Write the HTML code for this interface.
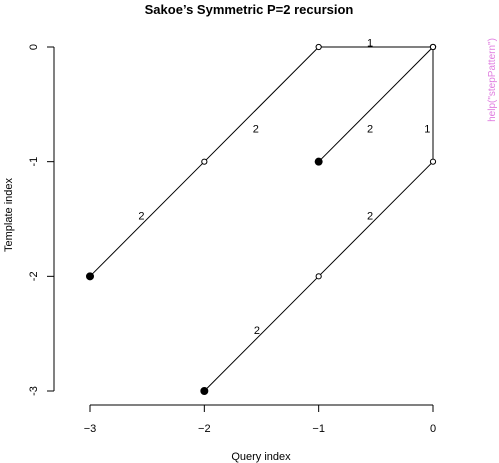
<!DOCTYPE html>
<html><head><meta charset="utf-8"><style>
body{margin:0;background:#fff}
svg{display:block;font-family:"Liberation Sans",sans-serif}
</style></head><body>
<svg width="499" height="463">
<g id="plot"></g>
</svg>
<script>
const paths = [
  {qx:[-3,-2,-1,0], ty:[-2,-1,0,0]},
  {qx:[-1,0], ty:[-1,0]},
  {qx:[-2,-1,0,0], ty:[-3,-2,-1,0]}
];
const labelText = ["2","2","1","2","2","2","1"];
const labelQ = [-2.55,-1.55,-0.55,-0.55,-1.54,-0.55,-0.05];
const labelT = [-1.47,-0.71,0.04,-0.71,-2.47,-1.47,-0.71];
const xTicks = [-3,-2,-1,0];
const yTicks = [0,-1,-2,-3];
const xTickLabels = ["\u22123","\u22122","\u22121","0"];
const yTickLabels = ["0","-1","-2","-3"];

const NS="http://www.w3.org/2000/svg";
const svg=document.querySelector('svg');
const g=document.getElementById('plot');
const sx=v=>90+(v+3)*(433-90)/3;
const sy=v=>47+(-v)*(391-47)/3;
function el(tag,attrs,parent){const e=document.createElementNS(NS,tag);for(const k in attrs)e.setAttribute(k,attrs[k]);(parent||g).appendChild(e);return e;}
function txt(x,y,s,attrs){const t=el('text',Object.assign({x:x,y:y,'text-anchor':'middle','font-size':11,fill:'#000'},attrs||{}));t.textContent=s;return t;}

let t=txt(249,14,"Sakoe\u2019s Symmetric P=2 recursion",{'font-size':13,'font-weight':'bold'});



// x axis
let ax=el('path',{d:`M${sx(-3)},405H${sx(0)}`,stroke:'#000',fill:'none'});


xTicks.forEach((v,i)=>{
  el('line',{x1:sx(v),x2:sx(v),y1:405,y2:412,stroke:'#000'});
  const l=txt(sx(v),432,xTickLabels[i]);
  
  
});
t=txt(261,460,"Query index");



// y axis
let ay=el('path',{d:`M54,${sy(0)}V${sy(-3)}`,stroke:'#000',fill:'none'});


yTicks.forEach((v,i)=>{
  el('line',{x1:47,x2:54,y1:sy(v),y2:sy(v),stroke:'#000'});
  const l=txt(0,0,yTickLabels[i],{transform:`translate(37,${sy(v)}) rotate(-90)`});
  
  
});
t=txt(0,0,"Template index",{transform:"translate(12,215) rotate(-90)"});



t=txt(0,0,'help("stepPattern")',{transform:"translate(495,80) rotate(-90)",fill:'#e07ee0','font-size':10});



paths.forEach((p,pi)=>{
  const d=p.qx.map((q,i)=>(i?'L':'M')+sx(q)+','+sy(p.ty[i])).join('');
  const line=el('path',{d:d,stroke:'#000',fill:'none','stroke-width':1});
  
  
  p.qx.forEach((q,i)=>{
    const c=el('circle',{cx:sx(q),cy:sy(p.ty[i]),r:i===0?3.5:2.6,fill:i===0?'#000':'#fff',stroke:'#000'});
    
    
  });
});
labelText.forEach((s,i)=>{
  const l=txt(sx(labelQ[i]),sy(labelT[i])+4,s);
  
  
});
</script>
</body></html>
